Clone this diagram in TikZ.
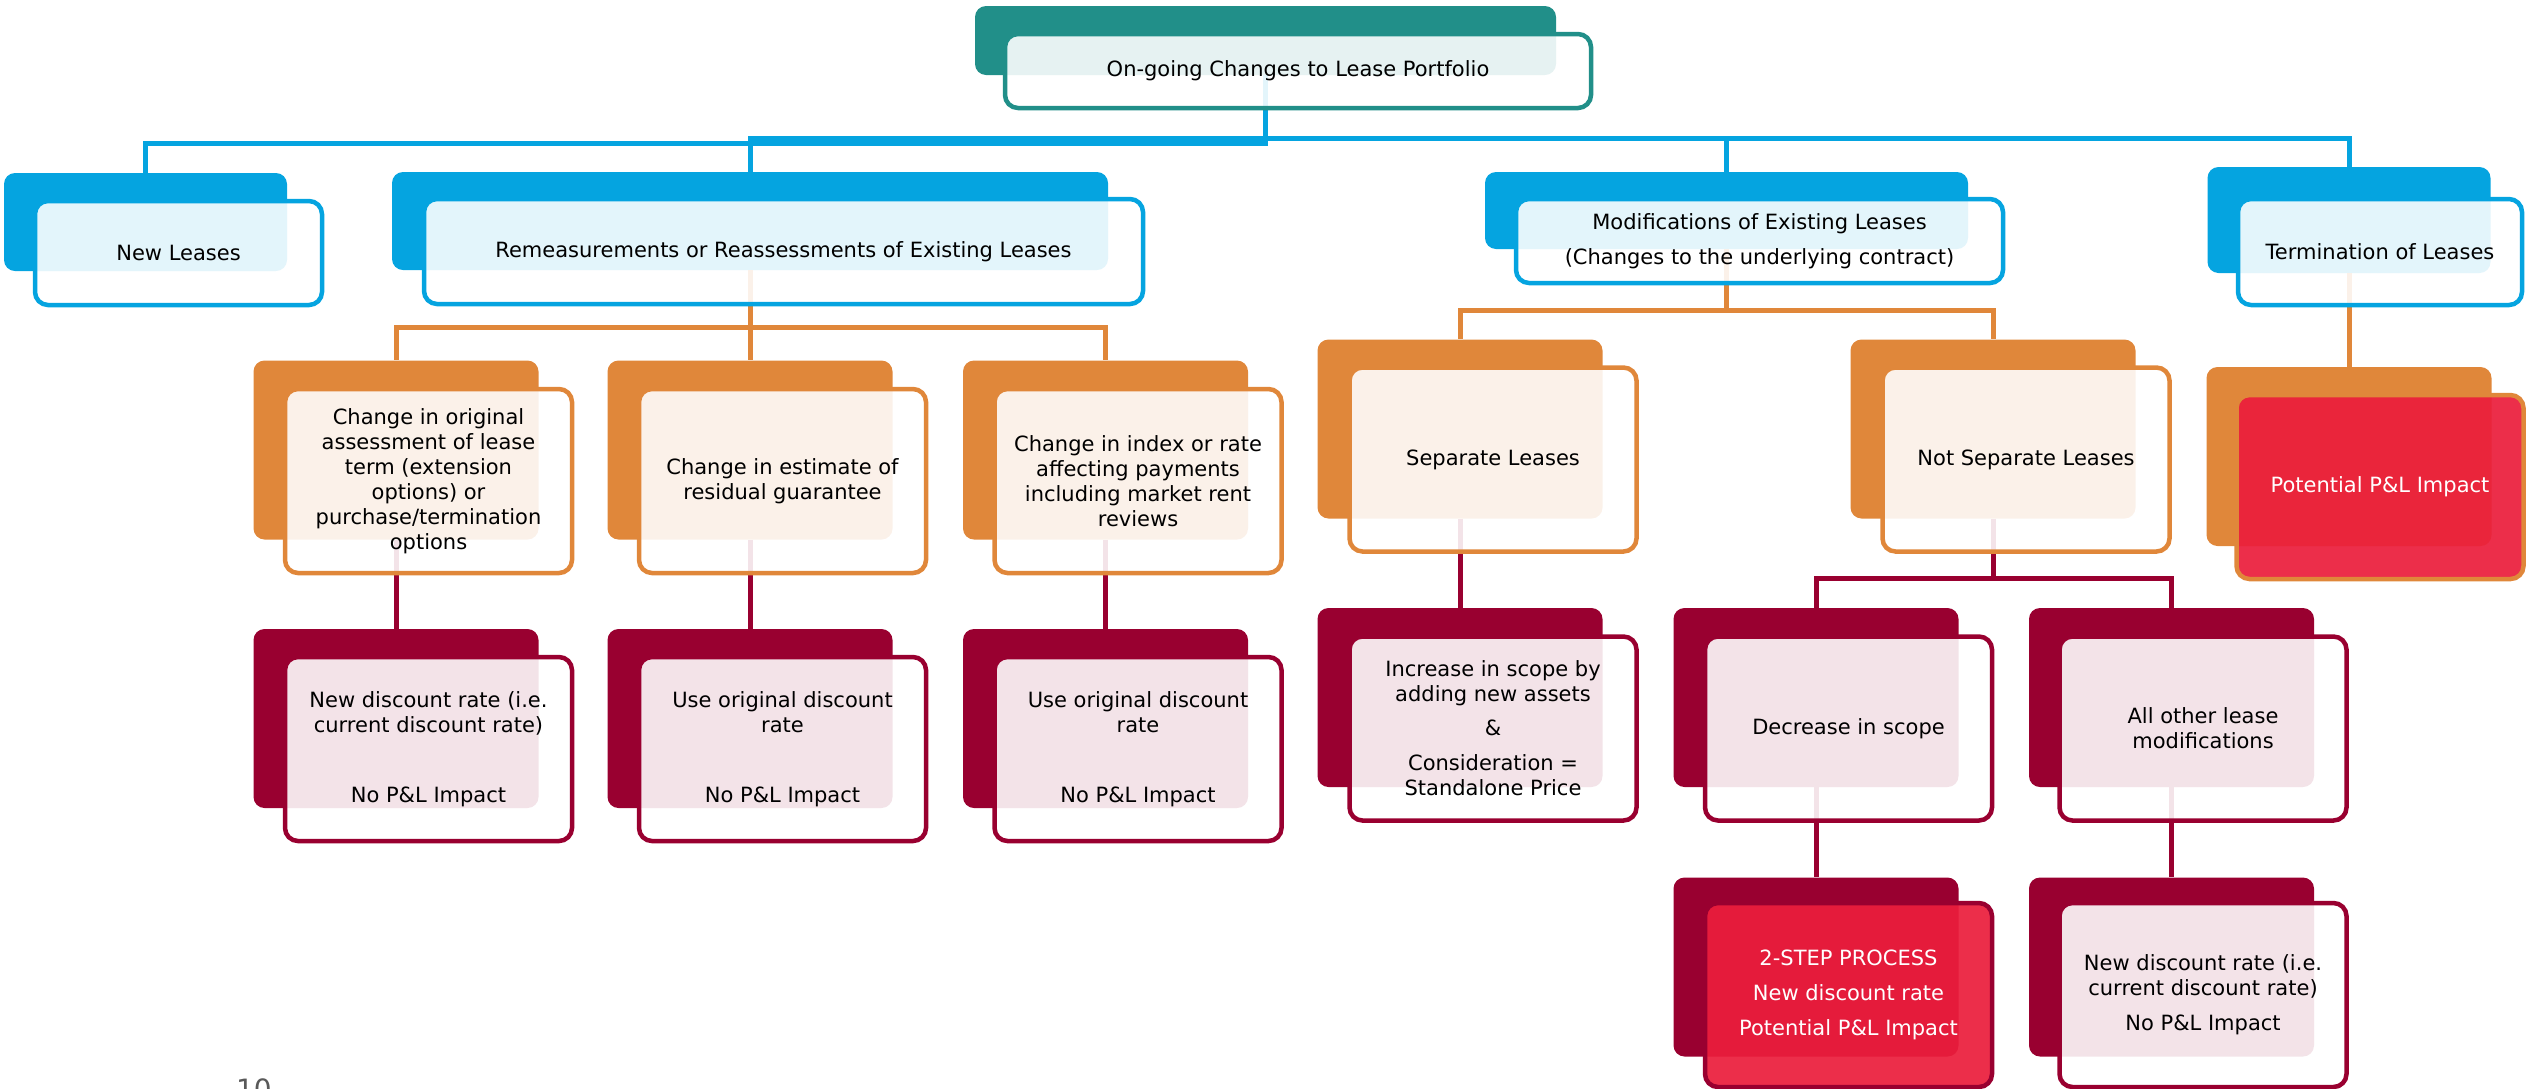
\documentclass[tikz,border=0pt]{standalone}
\usepackage{fontspec}
\setmainfont{DejaVu Sans}
\usepackage{tikz}
\usetikzlibrary{calc}
\usepackage{color}

\definecolor{teal1}{RGB}{33,143,137}
\definecolor{blue1}{RGB}{5,164,224}
\definecolor{orange1}{RGB}{224,135,58}
\definecolor{crimson1}{RGB}{153,0,48}
\definecolor{red1}{RGB}{235,30,60}
\definecolor{page}{RGB}{89,89,89}

\tikzset{
  back/.style={fill=#1, rounded corners=11pt, inner sep=0pt, minimum width=285pt, minimum height=179pt},
  front/.style={draw=#1, line width=4.5pt, fill=white, fill opacity=0.89, text opacity=1,
    rounded corners=13pt, inner sep=0pt, minimum width=287pt, minimum height=184pt,
    align=center, font=\fontsize{21pt}{25pt}\selectfont},
  hot/.style={front=#1, fill=red1, fill opacity=0.93, text=white},
  link/.style={draw=#1, line width=5pt},
}

\begin{document}
\begin{tikzpicture}[x=1pt,y=-1pt]
\useasboundingbox (0,0) rectangle (2526,1088);

%back boxes
\node[back=teal1, minimum width=581pt, minimum height=69pt] (top) at (1265.5,40.5) {};
\node[back=blue1, minimum width=283pt, minimum height=98pt] (newl) at (145.5,222) {};
\node[back=blue1, minimum width=716pt, minimum height=98pt] (remeas) at (750,221) {};
\node[back=blue1, minimum width=483pt, minimum height=77pt] (modif) at (1726.5,210.5) {};
\node[back=blue1, minimum width=283pt, minimum height=106pt] (term) at (2349,220) {};

\foreach \n/\x/\y in {c1/396/450, c2/750/450, c3/1105.5/450, sep/1460/429, nsep/1993/429, pnl/2349/456.5}
   \node[back=orange1] (\n) at (\x,\y) {};
\foreach \n/\x/\y in {d1/396/718.5, d2/750/718.5, d3/1105.5/718.5, inc/1460/697.5, dec/1816/697.5, oth/2171.5/697.5, two/1816/967, new2/2171.5/967}
   \node[back=crimson1] (\n) at (\x,\y) {};

%connectors
\coordinate (bl) at (1265.5,143);
\coordinate (br) at (1265.5,138);
\draw[link=blue1] (top.south) -- (bl) -| (newl.north);
\draw[link=blue1] (top.south) -- (br) -| (remeas.north);
\draw[link=blue1] (br) -| (modif.north);
\draw[link=blue1] (br) -| (term.north);

\coordinate (ob) at (750,327);
\draw[link=orange1] (remeas.south) -- (ob);
\foreach \n in {c1,c2,c3}
   \draw[link=orange1] (ob) -| (\n.north);
\coordinate (mb) at (1726.5,310);
\draw[link=orange1] (modif.south) -- (mb);
\foreach \n in {sep,nsep}
   \draw[link=orange1] (mb) -| (\n.north);
\draw[link=orange1] (term.south) -- (pnl.north);

\foreach \a/\b in {c1/d1, c2/d2, c3/d3, sep/inc, dec/two, oth/new2}
   \draw[link=crimson1] (\a.south) -- (\b.north);
\coordinate (nb) at (1993,578);
\draw[link=crimson1] (nsep.south) -- (nb);
\foreach \n in {dec,oth}
   \draw[link=crimson1] (nb) -| (\n.north);

%front boxes
\node[front=teal1, minimum width=586pt, minimum height=74pt] (topf) at (1298,71) {On-going Changes to Lease Portfolio};
\node[front=blue1, minimum width=287pt, minimum height=104pt] (newlf) at (178.5,253) {New Leases};
\node[front=blue1, minimum width=719pt, minimum height=105pt] (remeasf) at (783.5,251.5) {Remeasurements or Reassessments of Existing Leases};
\node[front=blue1, minimum width=487pt, minimum height=84pt] (modiff) at (1759.5,241) {Modifications of Existing Leases\\[10pt](Changes to the underlying contract)};
\node[front=blue1, minimum width=284pt, minimum height=106pt] (termf) at (2380,252) {Termination of Leases};

\node[front=orange1] (c1f) at (428.5,481) {Change in original\\assessment of lease\\term (extension\\options) or\\purchase/termination\\options};
\node[front=orange1] (c2f) at (782.5,481) {Change in estimate of\\residual guarantee};
\node[front=orange1] (c3f) at (1138,481) {Change in index or rate\\affecting payments\\including market rent\\reviews};
\node[front=orange1] (sepf) at (1493,459.5) {Separate Leases};
\node[front=orange1] (nsepf) at (2026,459.5) {Not Separate Leases};
\node[hot=orange1] (pnlf) at (2380,487) {Potential P\&L Impact};

\node[front=crimson1] (d1f) at (428.5,749) {New discount rate (i.e.\\current discount rate)\\[45pt]No P\&L Impact};
\node[front=crimson1] (d2f) at (782.5,749) {Use original discount\\rate\\[45pt]No P\&L Impact};
\node[front=crimson1] (d3f) at (1138,749) {Use original discount\\rate\\[45pt]No P\&L Impact};
\node[front=crimson1] (incf) at (1493,728.5) {Increase in scope by\\adding new assets\\[9pt]\&\\[10pt]Consideration =\\Standalone Price};
\node[front=crimson1] (decf) at (1848.5,728.5) {Decrease in scope};
\node[front=crimson1] (othf) at (2203,728.5) {All other lease\\modifications};
\node[hot=crimson1] (twof) at (1848.5,995) {2-STEP PROCESS\\[10pt]New discount rate\\[10pt]Potential P\&L Impact};
\node[front=crimson1] (new2f) at (2203,995) {New discount rate (i.e.\\current discount rate)\\[10pt]No P\&L Impact};

%page number
\node[text=page, font=\fontsize{28pt}{30pt}\selectfont, anchor=north, inner sep=0pt] (pg) at (254,1078) {10};
\end{tikzpicture}
\end{document}
